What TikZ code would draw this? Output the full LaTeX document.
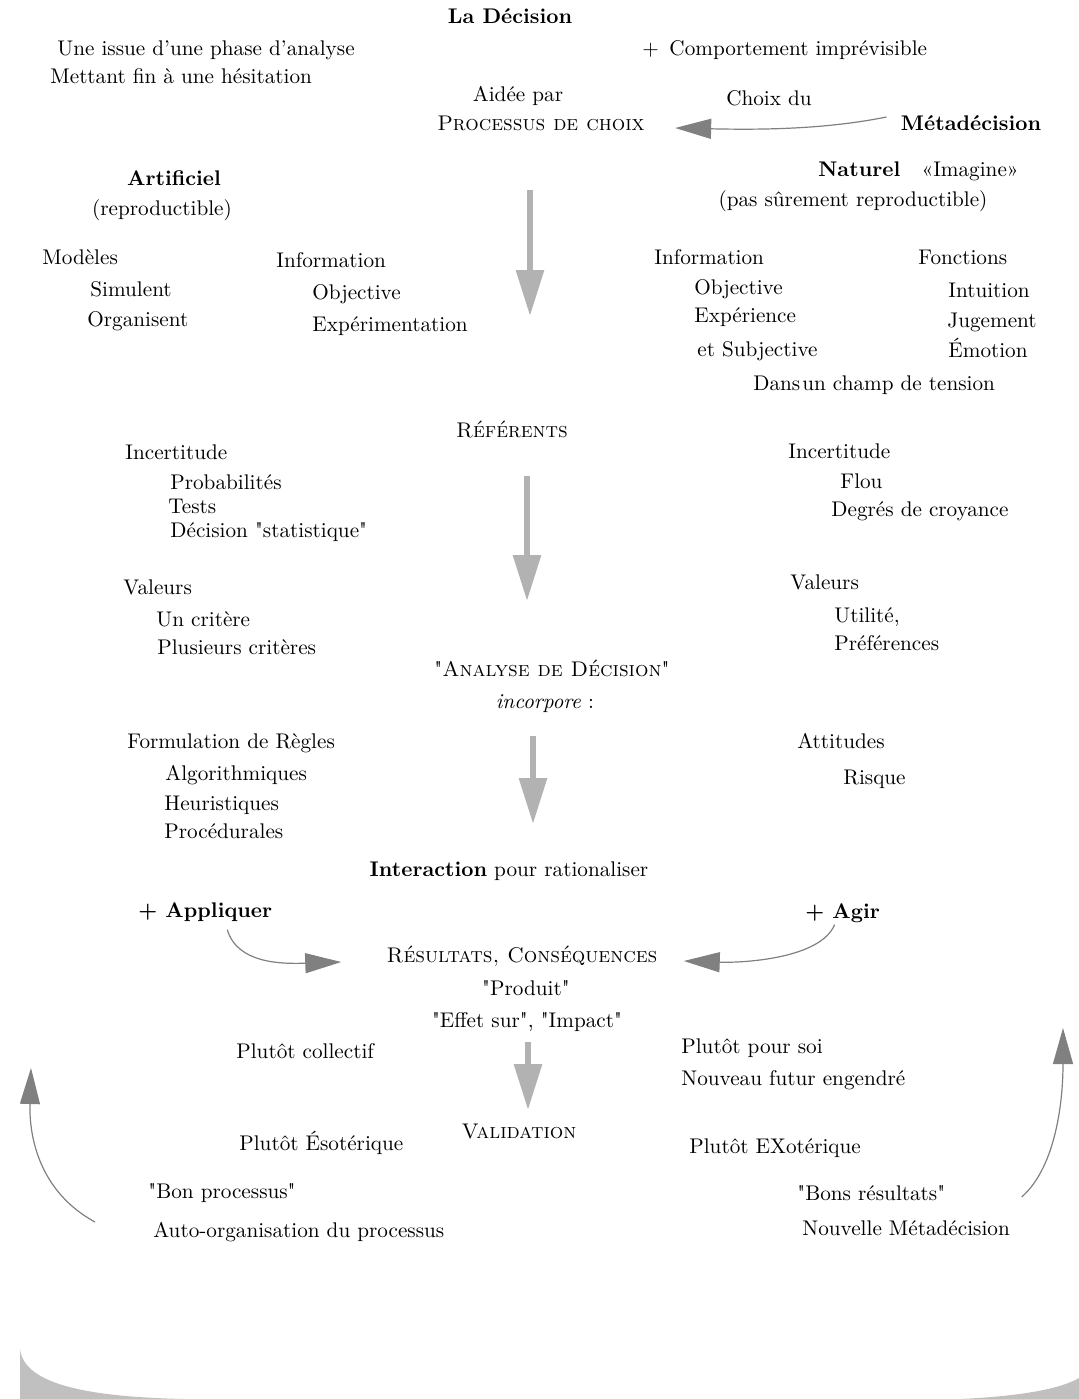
\documentclass[tikz,border=0pt]{standalone}
\usepackage{tikz}
\usetikzlibrary{arrows.meta}
\definecolor{shaftgrey}{RGB}{178,178,178}
\definecolor{curvegrey}{RGB}{128,128,128}
\definecolor{traygrey}{RGB}{192,192,192}
\newcommand{\diagfont}{\fontsize{10.6}{13}\selectfont}
\newcommand{\straightq}[1]{\textquotedbl#1\textquotedbl}
\tikzstyle{txt} = [inner sep=0pt, anchor=west, text height=1.6ex, text depth=.3ex,
    font=\diagfont]
\tikzstyle{ctxt} = [txt, anchor=center]
\tikzstyle{btxt} = [txt, font=\diagfont\bfseries]
\tikzstyle{downArrow} = [draw=shaftgrey, line width=3pt,
    -{Triangle[length=23pt,width=13.5pt]}]
\tikzstyle{bendArrow} = [draw=curvegrey, line width=0.6pt,
    -{Triangle[length=18pt,width=10pt]}]

\begin{document}
\begin{tikzpicture}[x=0.5pt,y=-0.5pt]
\useasboundingbox (0,0) rectangle (1079,1399);
% Nodes
	\node [btxt, anchor=center] (decision) at (510,18) {La Décision};
	\node [txt] (issue) at (57,50) {Une issue d’une phase d’analyse};
	\node [txt] (fin) at (50,78) {Mettant fin à une hésitation};
	\node [txt] (comport) at (642,50) {+\enspace Comportement imprévisible};
	\node [ctxt] (aidee) at (518,96) {Aidée par};
	\node [ctxt] (proc) at (541,125) {\textsc{Processus de choix}};
	\node [ctxt] (choix) at (769,100) {Choix du};
	\node [btxt, anchor=center] (meta) at (971,125) {Métadécision};
	\node [txt] (naturel) at (818,171) {\textbf{Naturel}\quad«Imagine»};
	\node [ctxt] (pasrep) at (853,201) {(pas sûrement reproductible)};
	\node [btxt, anchor=center] (artif) at (174,180) {Artificiel};
	\node [ctxt] (reprod) at (162,210) {(reproductible)};
% Artificiel
	\node [txt] (modeles) at (42,259) {Modèles};
	\node [txt] (simulent) at (90,291) {Simulent};
	\node [txt] (organisent) at (87,321) {Organisent};
	\node [txt] (infoA) at (276,262) {Information};
	\node [txt] (objA) at (312,294) {Objective};
	\node [txt] (experim) at (312,326) {Expérimentation};
% Naturel
	\node [txt] (infoN) at (654,259) {Information};
	\node [txt] (objN) at (694,289) {Objective};
	\node [txt] (experience) at (694,317) {Expérience};
	\node [txt] (subj) at (697,351) {et Subjective};
	\node [txt] (fonctions) at (918,259) {Fonctions};
	\node [txt] (intuition) at (948,292) {Intuition};
	\node [txt] (jugement) at (947,322) {Jugement};
	\node [txt] (emotion) at (948,352) {Émotion};
	\node [txt] (tension) at (753,385) {Dans\hspace{1pt}un champ de tension};
% Referents
	\node [ctxt] (referents) at (512,432) {\textsc{Référents}};
	\node [txt] (incA) at (125,454) {Incertitude};
	\node [txt] (proba) at (170,484) {Probabilités};
	\node [txt] (tests) at (168,508) {Tests};
	\node [txt] (stat) at (170,532) {Décision \straightq{statistique}};
	\node [txt] (valA) at (123,589) {Valeurs};
	\node [txt] (uncrit) at (156,621) {Un critère};
	\node [txt] (plusieurs) at (157,649) {Plusieurs critères};
	\node [txt] (incN) at (788,453) {Incertitude};
	\node [txt] (flou) at (840,483) {Flou};
	\node [txt] (croyance) at (831,511) {Degrés de croyance};
	\node [txt] (valN) at (790,584) {Valeurs};
	\node [txt] (utilite) at (834,617) {Utilité,};
	\node [txt] (pref) at (834,645) {Préférences};
% Analyse
	\node [ctxt] (analyse) at (552,671) {\straightq{\textsc{Analyse de Décision}}};
	\node [ctxt] (incorp) at (545,703) {\textit{incorpore} :};
	\node [txt] (formul) at (127,743) {Formulation de Règles};
	\node [txt] (algo) at (165,775) {Algorithmiques};
	\node [txt] (heur) at (164,805) {Heuristiques};
	\node [txt] (proced) at (164,833) {Procédurales};
	\node [txt] (attitudes) at (797,743) {Attitudes};
	\node [txt] (risque) at (843,779) {Risque};
% Resultats
	\node [ctxt] (interaction) at (509,871) {\textbf{Interaction} pour rationaliser};
	\node [btxt] (appl) at (138,912) {+ Appliquer};
	\node [btxt] (agir) at (805,913) {+ Agir};
	\node [ctxt] (results) at (522,957) {\textsc{Résultats, Conséquences}};
	\node [ctxt] (produit) at (526,990) {\straightq{Produit}};
	\node [ctxt] (effet) at (527,1022) {\straightq{Effet sur}, \straightq{Impact}};
	\node [txt] (collectif) at (236,1053) {Plutôt collectif};
	\node [txt] (soi) at (681,1048) {Plutôt pour soi};
	\node [txt] (futur) at (681,1080) {Nouveau futur engendré};
	\node [ctxt] (validation) at (519,1133) {\textsc{Validation}};
	\node [txt] (esot) at (239,1145) {Plutôt Ésotérique};
	\node [txt] (exot) at (689,1148) {Plutôt EXotérique};
	\node [txt] (bonproc) at (148,1193) {\straightq{Bon processus}};
	\node [txt] (autoorg) at (153,1232) {Auto-organisation du processus};
	\node [txt] (bonsres) at (797,1195) {\straightq{Bons résultats}};
	\node [txt] (nouvmeta) at (802,1230) {Nouvelle Métadécision};
	\coordinate (d1s) at (530,190);  \coordinate (d1e) at (530,316);
	\coordinate (d2s) at (527,476);  \coordinate (d2e) at (527,601);
	\coordinate (d3s) at (533,736);  \coordinate (d3e) at (533,824);
	\coordinate (d4s) at (528,1042); \coordinate (d4e) at (528,1110);
	\coordinate (leftTip) at (31,1068);
	\coordinate (rightTip) at (1063,1028);
% Connections
	\draw [downArrow] (d1s) -- (d1e);
	\draw [downArrow] (d2s) -- (d2e);
	\draw [downArrow] (d3s) -- (d3e);
	\draw [downArrow] (d4s) -- (d4e);
	\draw [bendArrow] ([shift={(-14,-8)}]meta.west) .. controls +(-60,12) and +(90,2) .. ([shift={(30,3)}]proc.east);
	\draw [bendArrow] ([shift={(22,9)}]appl.south) .. controls +(10,34) and +(-60,2) .. ([shift={(-45,5)}]results.west);
	\draw [bendArrow] ([shift={(-8,3)}]agir.south) .. controls +(-14,34) and +(60,2) .. ([shift={(26,4)}]results.east);
	\draw [bendArrow] ([shift={(-58,-10)}]autoorg.west) .. controls +(-55,-30) and +(-2,70) .. (leftTip);
	\draw [bendArrow] ([shift={(76,2)}]bonsres.east) .. controls +(32,-28) and +(0,80) .. (rightTip);
% Tray
	\fill [traygrey] (20,1349) .. controls (24,1385) and (90,1397) .. (185,1399)
	  -- (960,1399) .. controls (1025,1396) and (1062,1388) .. (1079,1378)
	  -- (1079,1399) -- (20,1399) -- cycle;
\end{tikzpicture}
\end{document}
